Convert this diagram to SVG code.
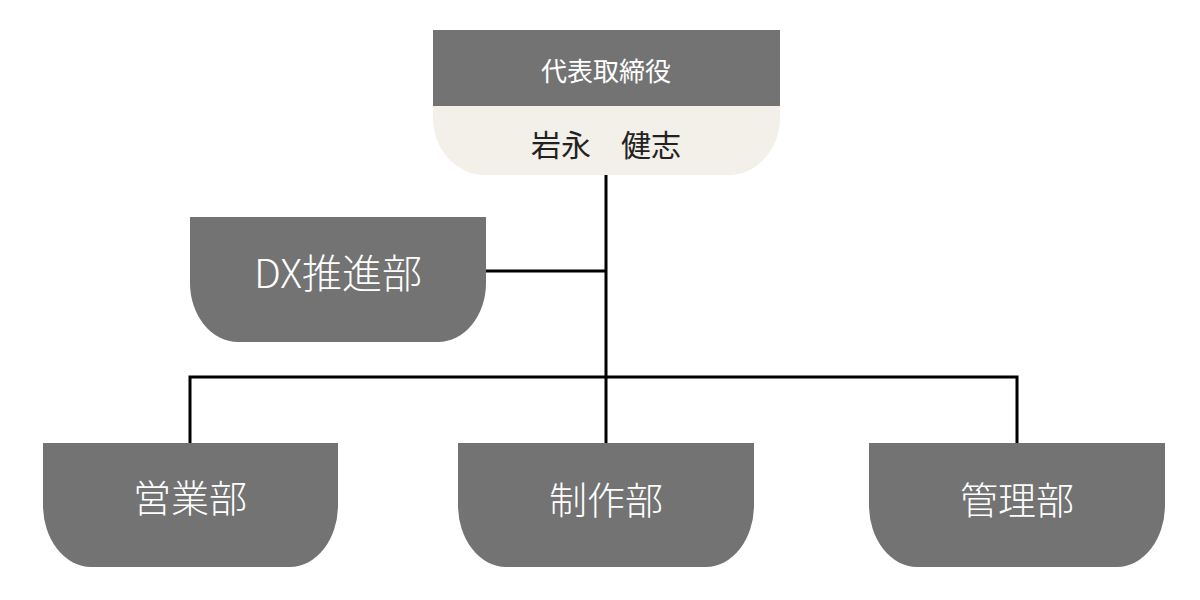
<svg xmlns="http://www.w3.org/2000/svg" width="1200" height="600" viewBox="0 0 1200 600">
<style>
.box{fill:#737373}
.lbl{fill:#ffffff;font-family:"Noto Sans CJK JP","Noto Sans",sans-serif;font-weight:300;text-anchor:middle;dominant-baseline:central}
.name{fill:#222222;font-family:"Noto Sans CJK JP","Noto Sans",sans-serif;font-weight:400;text-anchor:middle;dominant-baseline:central}
.conn{stroke:#000000;stroke-width:3;fill:none}
</style>
<rect width="1200" height="600" fill="#ffffff"/>
<g id="connectors">
<line class="conn" x1="606" y1="175" x2="606" y2="443"/>
<line class="conn" x1="486" y1="271" x2="606" y2="271"/>
<polyline class="conn" points="190,443 190,377 1017,377 1017,443"/>
</g>
<g id="ceo">
<path d="M433,105 H780 V118 A52 57 0 0 1 728,175 H485 A52 57 0 0 1 433,118 Z" fill="#f3efe9"/>
<rect x="433" y="30" width="347" height="76" class="box"/>
<text class="lbl" x="606" y="69" font-size="26" style="font-weight:400">代表取締役</text>
<text class="name" x="606" y="143" font-size="30">岩永　健志</text>
</g>
<g id="dx">
<path d="M190,217 H486 V283 A48 59 0 0 1 438,342 H238 A48 59 0 0 1 190,283 Z" class="box"/>
<text class="lbl" x="338" y="271" font-size="40">DX推進部</text>
</g>
<g id="sales">
<path d="M43,443 H338 V505 A48 62 0 0 1 290,567 H91 A48 62 0 0 1 43,505 Z" class="box"/>
<text class="lbl" x="190" y="495" font-size="38">営業部</text>
</g>
<g id="production">
<path d="M458,443 H754 V505 A48 62 0 0 1 706,567 H506 A48 62 0 0 1 458,505 Z" class="box"/>
<text class="lbl" x="606" y="497" font-size="38">制作部</text>
</g>
<g id="admin">
<path d="M869,443 H1165 V505 A48 62 0 0 1 1117,567 H917 A48 62 0 0 1 869,505 Z" class="box"/>
<text class="lbl" x="1017" y="497" font-size="38">管理部</text>
</g>
</svg>
